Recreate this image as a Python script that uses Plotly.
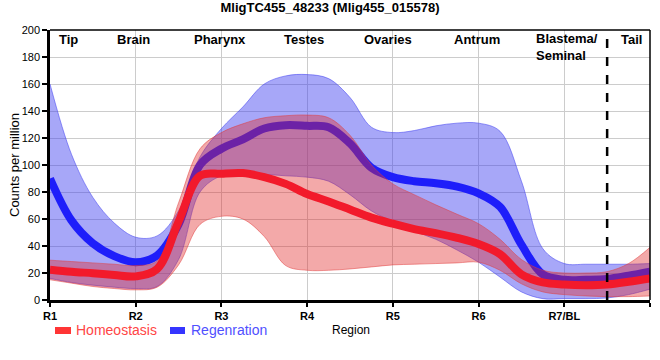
import plotly.graph_objects as go

# ---- data ----
positions = [0, 0.25, 0.5, 0.75, 1, 1.25, 1.5, 1.75, 2, 2.25, 2.5, 2.75, 3, 3.25, 3.5,
             3.75, 4, 4.25, 4.5, 4.75, 5, 5.25, 5.5, 5.75, 6, 6.25, 6.5, 6.75, 7]

hom_mean = [22.5, 21, 19.8, 18.5, 17.5, 23, 58, 92, 93.5, 94, 91, 86, 78.5, 73, 67,
            61, 56.5, 52.5, 49.5, 46, 41.5, 34, 19, 13, 11.5, 11, 11.5, 13.5, 16]
hom_hi = [29.5, 28.5, 27.5, 26.5, 25.5, 29, 72, 112, 124, 130.5, 135, 136.5, 137, 135, 122,
          100, 86, 78, 70.5, 63.5, 56.5, 45, 30, 22, 20, 20, 21, 27, 39]
hom_lo = [15, 12.5, 10, 8.5, 7.5, 9.5, 26, 56, 62, 60, 47, 25.5, 22, 22, 23,
          24.5, 26, 26.5, 27, 27.5, 28, 22, 12, 6, 4, 3, 2.5, 2.5, 3]

reg_mean = [90, 59, 42, 32.5, 28, 33, 56, 100, 112, 119, 127, 129.5, 129, 128, 116,
            98, 91, 88, 86.5, 84, 79, 69, 41, 19, 15, 15, 15.5, 18, 21]
reg_hi = [160, 108, 76, 57, 46.5, 47.5, 66, 106, 127, 143, 160, 166, 167, 164, 150,
          128, 124, 125.5, 129, 131, 131, 125, 88, 38, 27, 26.5, 26.5, 26.5, 27]
reg_lo = [16, 13, 11, 9.5, 8.5, 10, 30, 80, 92, 93, 93, 92, 91, 88, 78,
          66, 58, 51, 45, 37, 28, 17, 6, 1, 1, 1, 1.5, 4, 8]

tick_vals = [0, 1, 2, 3, 4, 5, 6, 7]
tick_labels = ["R1", "R2", "R3", "R4", "R5", "R6", "R7/BL", "R8/TL"]
region_names = ["Tip", "Brain", "Pharynx", "Testes", "Ovaries", "Antrum", "Tail"]
region_label_x = [0.22, 0.97, 1.98, 2.96, 3.94, 4.98, 6.78]
tail_boundary = 6.5

FONT = "Liberation Sans, Arial, sans-serif"
BLUE_LINE = "#1e1efa"
RED_LINE = "#f21a2b"

fig = go.Figure()

# Regeneration band + line
fig.add_trace(go.Scatter(x=positions, y=reg_lo, mode="lines",
                         line=dict(color="rgba(70,70,240,0.55)", width=1, shape="spline", smoothing=1),
                         showlegend=False, hoverinfo="skip"))
fig.add_trace(go.Scatter(x=positions, y=reg_hi, mode="lines", fill="tonexty",
                         fillcolor="rgba(60,60,240,0.45)",
                         line=dict(color="rgba(70,70,240,0.55)", width=1, shape="spline", smoothing=1),
                         showlegend=False, hoverinfo="skip"))
fig.add_trace(go.Scatter(x=positions, y=reg_mean, mode="lines", name="Regenration",
                         line=dict(color=BLUE_LINE, width=8, shape="spline", smoothing=1),
                         showlegend=False))

# Homeostasis band + line
fig.add_trace(go.Scatter(x=positions, y=hom_lo, mode="lines",
                         line=dict(color="rgba(225,60,60,0.5)", width=1, shape="spline", smoothing=1),
                         showlegend=False, hoverinfo="skip"))
fig.add_trace(go.Scatter(x=positions, y=hom_hi, mode="lines", fill="tonexty",
                         fillcolor="rgba(225,40,40,0.4)",
                         line=dict(color="rgba(225,60,60,0.5)", width=1, shape="spline", smoothing=1),
                         showlegend=False, hoverinfo="skip"))
fig.add_trace(go.Scatter(x=positions, y=hom_mean, mode="lines", name="Homeostasis",
                         line=dict(color=RED_LINE, width=8, shape="spline", smoothing=1),
                         showlegend=False))

annotations = []
for name, px in zip(region_names, region_label_x):
    annotations.append(dict(x=px, y=0.963, xref="x", yref="paper", text="<b>%s</b>" % name,
                            showarrow=False, xanchor="center", yanchor="middle",
                            font=dict(size=13, color="black", family=FONT)))
annotations.append(dict(x=5.647, y=0.937, xref="x", yref="paper", text="<b>Blastema/<br>Seminal</b>",
                        showarrow=False, xanchor="left", yanchor="middle", align="left",
                        font=dict(size=13, color="black", family=FONT)))
# axis titles
annotations.append(dict(x=0.502, y=-0.111, xref="paper", yref="paper", text="Region",
                        showarrow=False, xanchor="center", yanchor="middle",
                        font=dict(size=12, color="black", family=FONT)))
annotations.append(dict(x=-0.06, y=0.5, xref="paper", yref="paper", text="Counts per million",
                        showarrow=False, xanchor="center", yanchor="middle", textangle=-90,
                        font=dict(size=13, color="black", family=FONT)))
# legend
annotations.append(dict(x=0.04, y=-0.111, xref="paper", yref="paper", text="Homeostasis",
                        showarrow=False, xanchor="left", yanchor="middle",
                        font=dict(size=14, color="#ff4545", family=FONT)))
annotations.append(dict(x=0.232, y=-0.111, xref="paper", yref="paper", text="Regenration",
                        showarrow=False, xanchor="left", yanchor="middle",
                        font=dict(size=14, color="#5050ff", family=FONT)))

shapes = [
    dict(type="line", xref="x", yref="paper", x0=tail_boundary, x1=tail_boundary, y0=0, y1=1,
         line=dict(color="black", width=2.5, dash="dash")),
    dict(type="line", xref="paper", yref="paper", x0=0, x1=1, y0=1, y1=1,
         line=dict(color="black", width=1.5)),
    dict(type="line", xref="paper", yref="paper", x0=1, x1=1, y0=0, y1=1,
         line=dict(color="black", width=1.5)),
    dict(type="rect", xref="paper", yref="paper", x0=0.0083, x1=0.035, y0=-0.1, y1=-0.126,
         fillcolor="#ff3535", line=dict(width=0)),
    dict(type="rect", xref="paper", yref="paper", x0=0.2, x1=0.225, y0=-0.1, y1=-0.126,
         fillcolor="#3535ff", line=dict(width=0)),
]

fig.update_layout(
    width=660, height=360,
    margin=dict(l=50, r=10, t=30, b=60),
    paper_bgcolor="white", plot_bgcolor="white",
    font=dict(family=FONT, color="black"),
    title=dict(text="<b>MligTC455_48233 (Mlig455_015578)</b>", x=0.5, xanchor="center",
               y=0.98, yanchor="middle", font=dict(size=13, color="black", family=FONT)),
    showlegend=False,
    annotations=annotations,
    shapes=shapes,
)
fig.update_xaxes(range=[0, 7], tickvals=tick_vals, ticktext=tick_labels,
                 showgrid=True, gridcolor="#cccccc", gridwidth=1,
                 showline=True, linecolor="black", linewidth=3,
                 ticks="outside", ticklen=4, tickwidth=1.5, tickcolor="black",
                 tickfont=dict(size=11, weight="bold", color="black", family=FONT),
                 zeroline=False, fixedrange=True)
fig.update_yaxes(range=[0, 200], dtick=20, tick0=0,
                 showgrid=True, gridcolor="#cccccc", gridwidth=1,
                 showline=True, linecolor="black", linewidth=2.5,
                 ticks="outside", ticklen=5, tickwidth=1.5, tickcolor="black",
                 tickfont=dict(size=11, color="black", family=FONT),
                 zeroline=False, fixedrange=True)

fig.write_html("out.html", config={"displayModeBar": False},
               post_script="document.body.style.margin='0';document.body.style.overflow='hidden';")
